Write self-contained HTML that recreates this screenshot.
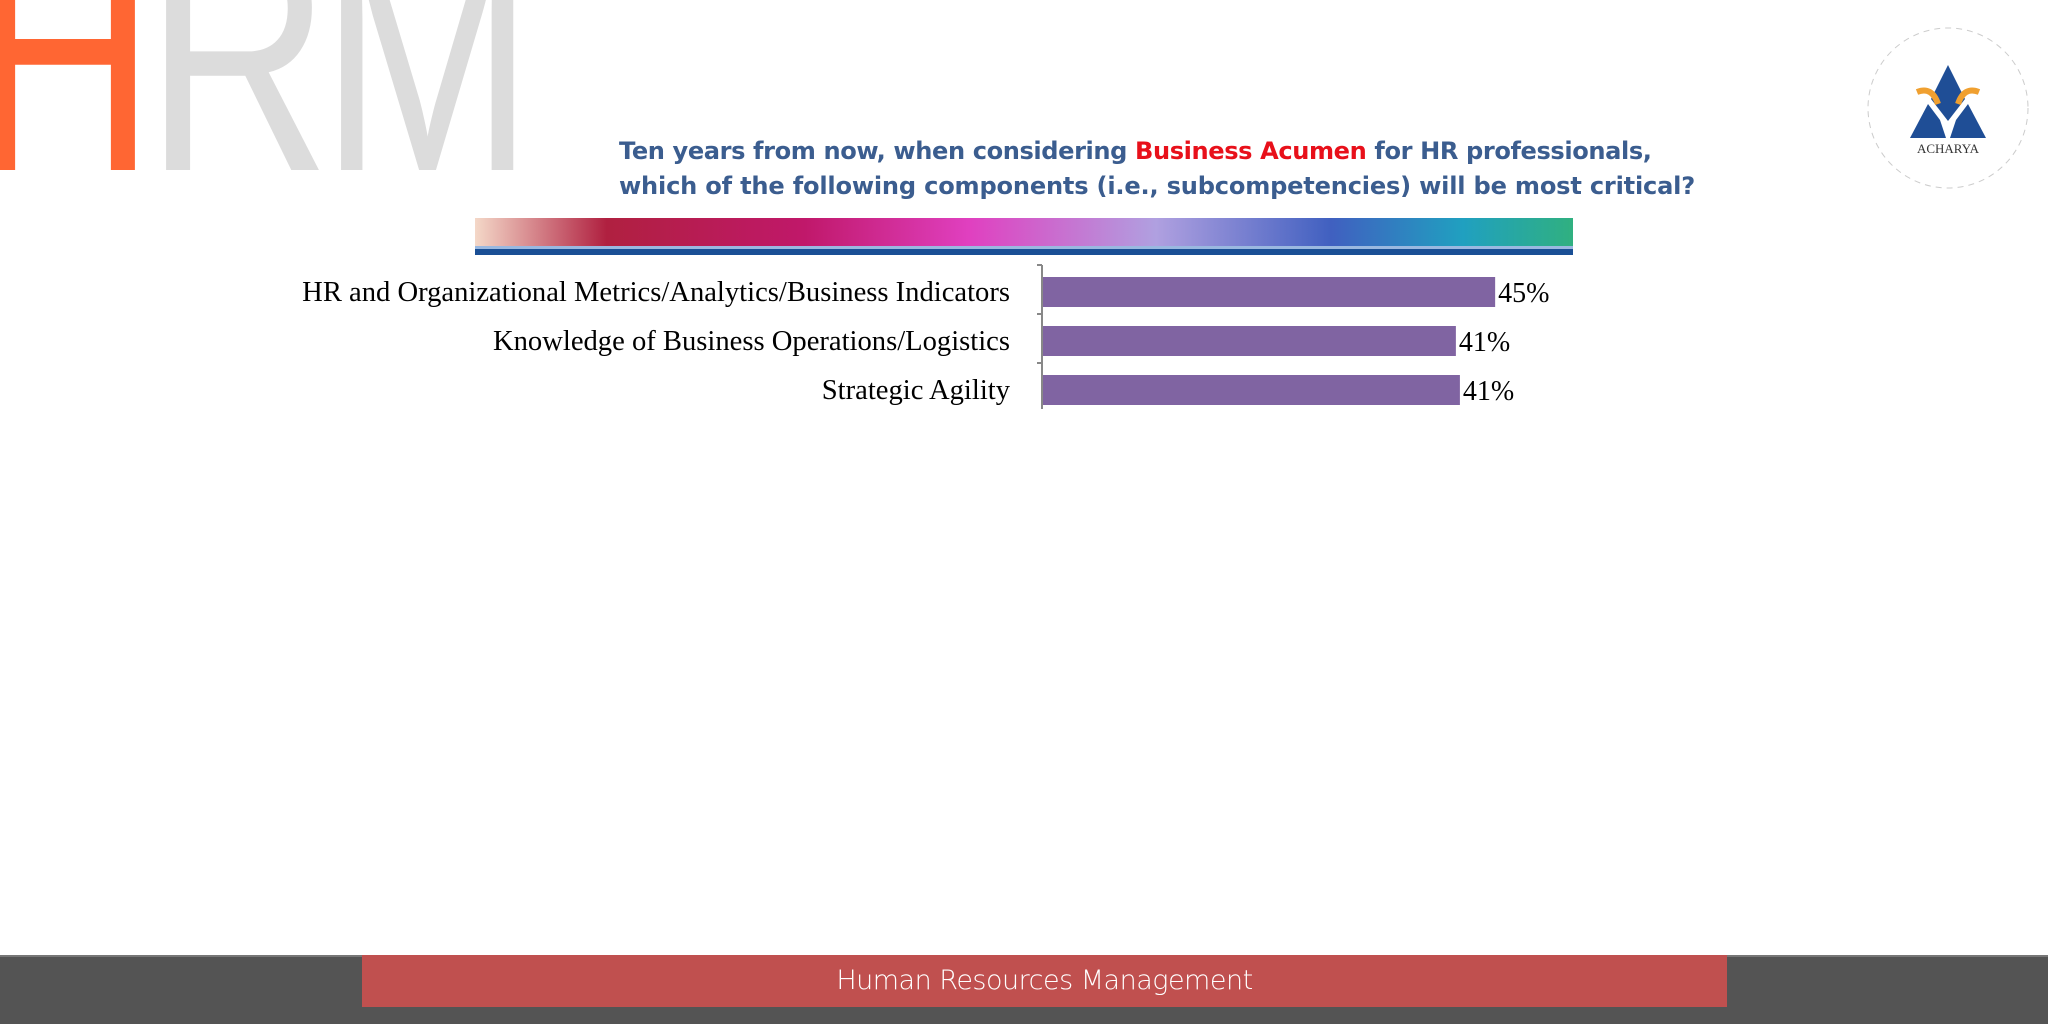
<!DOCTYPE html>
<html><head><meta charset="utf-8"><style>
html,body{margin:0;padding:0;width:2048px;height:1024px;overflow:hidden;background:#fff;position:relative}
.abs{position:absolute}
</style></head><body>
<div class="abs" style="left:-30px;top:-109px;font-family:'Liberation Sans',sans-serif;font-size:330px;line-height:330px;letter-spacing:-14px;white-space:nowrap;transform:scale(0.78,1);transform-origin:0 100%"><span style="color:#ff6633">H</span><span style="color:#dcdcdc">RM</span></div>
<div class="abs" style="left:619px;top:134px;font-family:'DejaVu Sans','Liberation Sans',sans-serif;font-weight:bold;font-size:24.1px;line-height:35px;color:#3b5d8f;white-space:nowrap;letter-spacing:-0.4px">Ten years from now, when considering <span style="color:#e8101a">Business Acumen</span> for HR professionals,<br><span style="letter-spacing:-0.2px">which of the following components (i.e., subcompetencies) will be most critical?</span></div>
<svg class="abs" style="left:475px;top:218px" width="1098" height="37">
<defs><linearGradient id="g" x1="0" x2="1" y1="0" y2="0">
<stop offset="0" stop-color="#f4d8c8"/><stop offset="0.12" stop-color="#b02040"/><stop offset="0.3" stop-color="#c0186a"/><stop offset="0.45" stop-color="#e040c0"/><stop offset="0.62" stop-color="#b0a0e0"/><stop offset="0.78" stop-color="#4060c0"/><stop offset="0.9" stop-color="#20a0c0"/><stop offset="1" stop-color="#30b080"/></linearGradient></defs>
<rect x="0" y="0" width="1098" height="28" fill="url(#g)"/>
<rect x="0" y="28" width="1098" height="3" fill="#9ab8e0"/>
<rect x="0" y="31" width="1098" height="6" fill="#1a4f95"/>
</svg>
<svg class="abs" style="left:1862px;top:24px" width="170" height="170">
<circle cx="86" cy="84" r="80" fill="#fff" stroke="#ccc" stroke-dasharray="6 5" stroke-width="1"/>
<polygon points="86,41 69,75 86,97 103,75" fill="#1f4e96"/>
<polygon points="66,80 48,114 84,114 78,96" fill="#1f4e96"/>
<polygon points="106,80 124,114 88,114 94,96" fill="#1f4e96"/>
<path d="M55,68 Q70,62 76,80" stroke="#f0a030" stroke-width="6" fill="none"/>
<path d="M117,68 Q102,62 96,80" stroke="#f0a030" stroke-width="6" fill="none"/>
<text x="86" y="129" text-anchor="middle" font-family="Liberation Serif,serif" font-size="13" fill="#333">ACHARYA</text>
</svg>
<svg id="chart" class="abs" style="left:0;top:0" width="2048" height="940"></svg>
<div class="abs" style="left:0;top:955px;width:2048px;height:69px;background:#545454;border-top:2px solid #777"></div>
<div class="abs" style="left:362px;top:955px;width:1365px;height:52px;background:#c0504f;color:#fff;font-family:'DejaVu Sans','Liberation Sans',sans-serif;font-size:27px;line-height:52px;text-align:center;font-weight:300;letter-spacing:-0.5px">Human Resources Management</div>
<script>
const categories=["HR and Organizational Metrics/Analytics/Business Indicators","Knowledge of Business Operations/Logistics","Strategic Agility"];
const values=[45,41.1,41.5];
const valueLabels=["45%","41%","41%"];
const ns="http://www.w3.org/2000/svg";
const svg=document.getElementById('chart');
const x0=1042,pxPer=10.07,top0=265,band=49,barH=30;
const xs=v=>x0+v*pxPer;
const yb=i=>top0+12+i*band;
function mk(t,a){const e=document.createElementNS(ns,t);for(const k in a)e.setAttribute(k,a[k]);svg.appendChild(e);return e;}
const ax=mk('line',{x1:x0,x2:x0,y1:top0,y2:top0+band*categories.length-3,stroke:'#888','stroke-width':2});


for(let i=0;i<categories.length;i++){const t=mk('line',{x1:x0-5,x2:x0,y1:top0+i*band,y2:top0+i*band,stroke:'#888','stroke-width':2});

}
categories.forEach((c,i)=>{
const y=yb(i);
const r=mk('rect',{x:x0+1,y:y,width:xs(values[i])-x0-1,height:barH,fill:'#8064a2'});


const l=mk('text',{x:1010,y:y+barH/2+9,'text-anchor':'end','font-family':'Liberation Serif,serif','font-size':28.6,fill:'#000'});l.textContent=c;


const v=mk('text',{x:xs(values[i])+3,y:y+barH/2+10,'font-family':'Liberation Serif,serif','font-size':28,fill:'#000'});v.textContent=valueLabels[i];


});
</script>
</body></html>
